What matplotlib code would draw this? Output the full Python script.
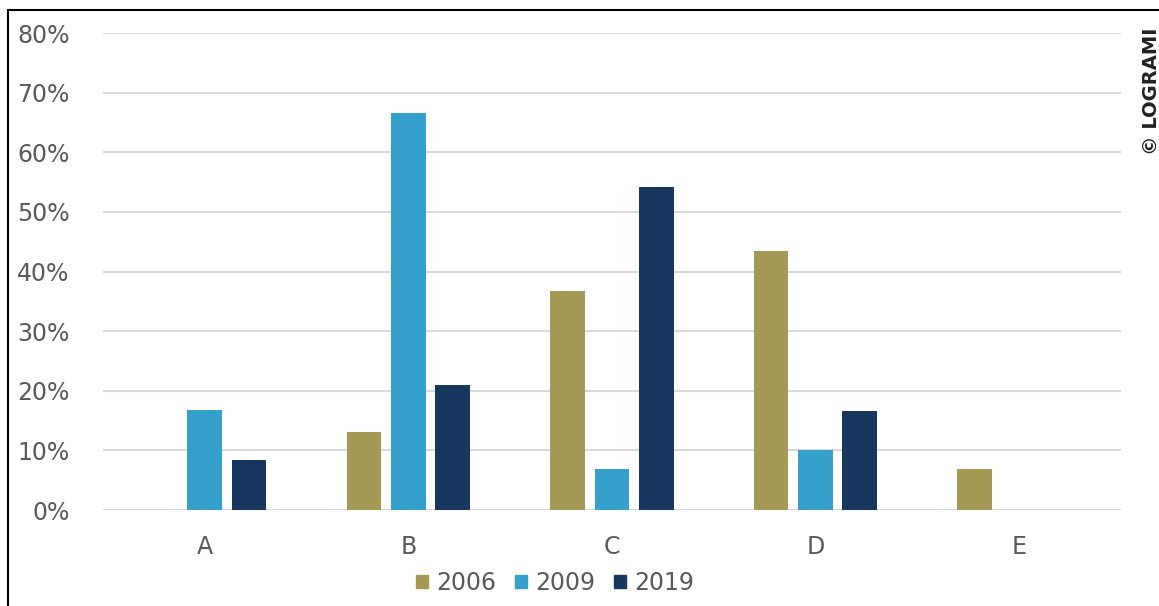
import numpy as np
import matplotlib.pyplot as plt
from matplotlib.lines import Line2D
from matplotlib.patches import Patch

# data (share, 0-1)
categories = ['A', 'B', 'C', 'D', 'E']
years = ['2006', '2009', '2019']
v2006 = [0.0, 0.131, 0.367, 0.435, 0.069]
v2009 = [0.168, 0.666, 0.069, 0.101, 0.0]
v2019 = [0.084, 0.210, 0.542, 0.166, 0.0]
colors = ['#A59A55', '#35A0CC', '#17375E']

plt.rcParams['font.family'] = ['DejaVu Sans']

fig = plt.figure(figsize=(11.59, 6.06), dpi=100)
ax = fig.add_axes([0.0889, 0.1584, 0.878, 0.7871])

x = np.arange(len(categories))
w = 0.17
step = 0.218
for i, (vals, c) in enumerate(zip([v2006, v2009, v2019], colors)):
    ax.bar(x + (i - 1) * step, vals, width=w, color=c, zorder=3)

ax.set_xlim(-0.5, 4.5)
ax.set_ylim(0, 0.8)
ax.set_yticks(np.arange(0, 0.81, 0.1))
ax.set_yticklabels(['%d%%' % round(t * 100) for t in np.arange(0, 0.81, 0.1)])
ax.set_xticks(x)
ax.set_xticklabels(categories)
ax.grid(axis='y', color='#D9D9D9', linewidth=1.5, zorder=0)
for s in ax.spines.values():
    s.set_visible(False)
ax.tick_params(length=0, labelsize=17, labelcolor='#595959')
ax.tick_params(axis='y', pad=24)
ax.tick_params(axis='x', pad=18)

handles = [Patch(color=c) for c in colors]
fig.legend(handles, years, loc='center', bbox_to_anchor=(0.479, 0.038), ncol=3,
           frameon=False, fontsize=17, labelcolor='#595959',
           handlelength=0.5, handleheight=0.5, handletextpad=0.35, columnspacing=0.8)

# watermark at the right edge
fig.text(0.9935, 0.744, '© LOGRAMI', rotation=90, ha='center', va='bottom',
         fontsize=14, fontweight='bold', color='#222222')

# frame lines on top and left like the source image
fig.add_artist(Line2D([0.0069, 0.0069], [0, 0.9835], color='black', linewidth=1.5))
fig.add_artist(Line2D([0.0069, 1], [0.9835, 0.9835], color='black', linewidth=1.5))

fig.savefig('out.png', dpi=100)
